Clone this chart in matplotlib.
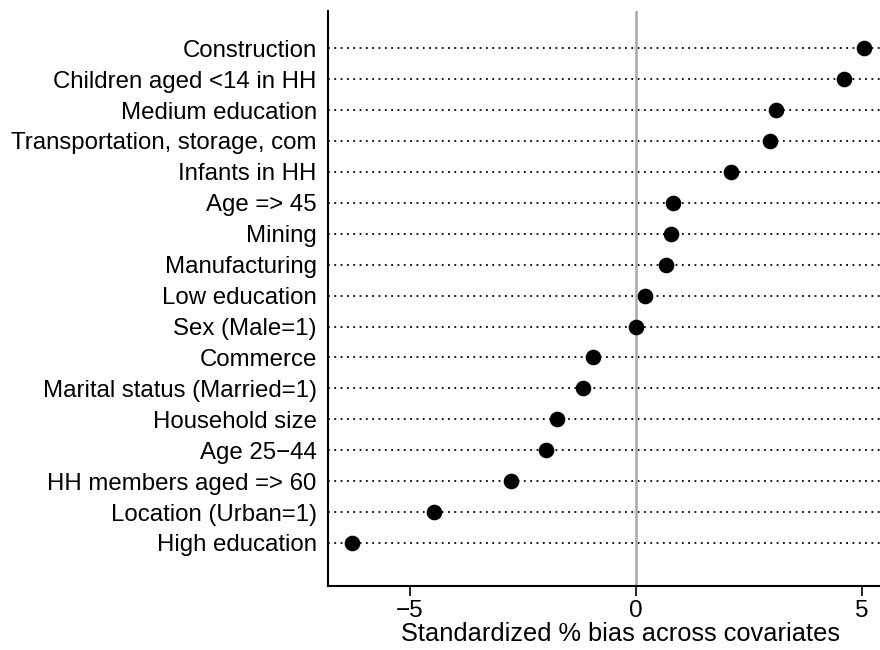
import matplotlib
matplotlib.use("Agg")
import matplotlib.pyplot as plt

plt.rcParams['font.family'] = ['Liberation Sans', 'DejaVu Sans']

# covariates, top to bottom, and their standardized % bias
labels = ["Construction", "Children aged <14 in HH", "Medium education",
          "Transportation, storage, com", "Infants in HH", "Age => 45", "Mining",
          "Manufacturing", "Low education", "Sex (Male=1)", "Commerce",
          "Marital status (Married=1)", "Household size", "Age 25\u221244",
          "HH members aged => 60", "Location (Urban=1)", "High education"]
bias = [5.04, 4.60, 3.10, 2.96, 2.10, 0.82, 0.77, 0.66, 0.20, 0.0,
        -0.95, -1.17, -1.75, -1.99, -2.77, -4.47, -6.28]
xticks = [-5, 0, 5]

fig = plt.figure(figsize=(8.8, 6.5), dpi=100)
# plot region runs a bit past the right edge of the image, as in the original
ax = fig.add_axes([0.3727, 0.0985, 0.6659, 0.8845])

ypos = list(range(len(labels)))
xmin, xmax = -6.81, 6.15
for y in ypos:
    ax.plot([xmin, xmax], [y, y], color='black', linestyle=(0, (1, 2.5)), linewidth=1.3, zorder=1)
ax.axvline(0, color='#a8a8a8', linewidth=1.8, zorder=2)
ax.scatter(bias, ypos, s=105, color='black', zorder=3)

ax.set_xlim(xmin, xmax)
ax.set_ylim(len(labels) - 1 + 1.39, -1.2)
ax.set_yticks(ypos)
ax.set_yticklabels(labels, fontsize=17.3)
ax.set_xticks(xticks)
ax.set_xticklabels(["\u22125", "0", "5"], fontsize=17.5)
ax.tick_params(axis='y', length=0, pad=8)
ax.tick_params(axis='x', length=7, width=1.2, pad=3)
ax.set_xlabel("Standardized % bias across covariates", fontsize=18.3, labelpad=0)

for s in ['top', 'right']:
    ax.spines[s].set_visible(False)
for s in ['left', 'bottom']:
    ax.spines[s].set_linewidth(1.5)

fig.savefig("out.png", dpi=100)
